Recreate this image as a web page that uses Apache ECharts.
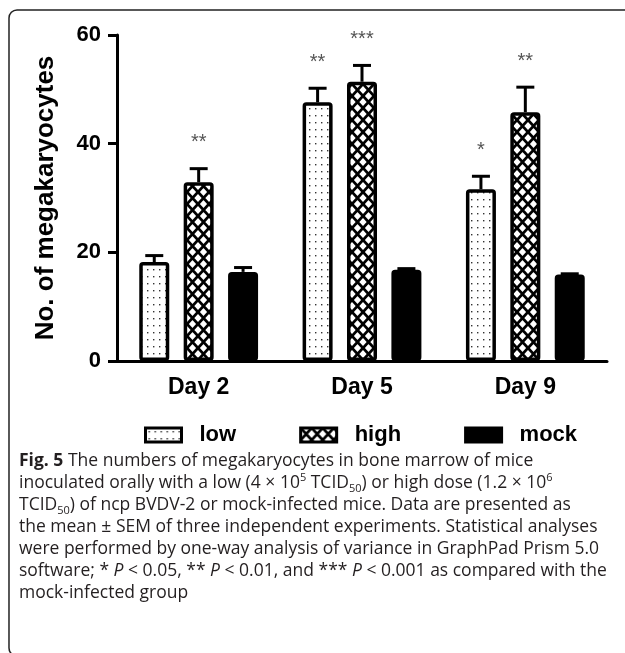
<!DOCTYPE html>
<html>
<head>
<meta charset="utf-8">
<script src="https://cdn.jsdelivr.net/npm/echarts@6/dist/echarts.min.js"></script>
<style>
  html, body { margin: 0; padding: 0; background: #fff; }
  #chart { width: 625px; height: 653px; }
</style>
</head>
<body>
<div id="chart"></div>
<script>
// data
const days = ["Day 2", "Day 5", "Day 9"];
const lowMean = [18.2, 47.6, 31.6];
const lowSem = [1.2, 2.6, 2.4];
const lowStars = ["", "**", "*"];
const highMean = [32.9, 51.4, 45.8];
const highSem = [2.5, 3.0, 4.6];
const highStars = ["**", "***", "**"];
const mockMean = [16.4, 16.8, 15.9];
const mockSem = [0.8, 0.2, 0.15];
const mockStars = ["", "", ""];
const yTicks = [0, 20, 40, 60];

const captionLines = [
  "{b|Fig. 5} The numbers of megakaryocytes in bone marrow of mice",
  "inoculated orally with a low (4 × 10{sup|5} TCID{sub|50}) or high dose (1.2 × 10{sup|6}",
  "TCID{sub|50}) of ncp BVDV-2 or mock-infected mice. Data are presented as",
  "the mean ± SEM of three independent experiments. Statistical analyses",
  "were performed by one-way analysis of variance in GraphPad Prism 5.0",
  "software; * {i|P} < 0.05, ** {i|P} < 0.01, and *** {i|P} < 0.001 as compared with the",
  "mock-infected group",
];

const BAR_W = 30;
const BAR_GAP = 0.48;
const CAP_W = 18;
const STAR_GAP = 26;
const FONT = "Liberation Sans";
const CAP_FONT = "Open Sans";

function dotPattern() {
  const c = document.createElement("canvas");
  c.width = 6;
  c.height = 7;
  const ctx = c.getContext("2d");
  ctx.fillStyle = "#fff";
  ctx.fillRect(0, 0, 6, 7);
  ctx.fillStyle = "#333";
  ctx.fillRect(3, 3, 1.4, 1.4);
  return c;
}

function hatchPattern() {
  const w = 11, h = 12;
  const c = document.createElement("canvas");
  c.width = w;
  c.height = h;
  const ctx = c.getContext("2d");
  ctx.fillStyle = "#fff";
  ctx.fillRect(0, 0, w, h);
  ctx.strokeStyle = "#000";
  ctx.lineWidth = 2.8;
  for (const dx of [-w, 0, w]) {
    for (const dy of [-h, 0, h]) {
      ctx.beginPath();
      ctx.moveTo(dx, dy);
      ctx.lineTo(dx + w, dy + h);
      ctx.moveTo(dx + w, dy);
      ctx.lineTo(dx, dy + h);
      ctx.stroke();
    }
  }
  return c;
}

function barSeries(name, means, fill) {
  return {
    name: name,
    type: "bar",
    data: means,
    barWidth: BAR_W,
    barGap: BAR_GAP * 100 + "%",
    z: 2,
    itemStyle: { color: fill, borderColor: "#000", borderWidth: 3.5, borderRadius: 2 },
    emphasis: { disabled: true },
  };
}

function errorSeries(name, means, sems, stars, slot) {
  return {
    name: name + " SEM",
    type: "custom",
    z: 3,
    silent: true,
    data: means.map((m, i) => [i, m, sems[i]]),
    encode: { x: 0, y: 1 },
    renderItem(params, api) {
      const idx = api.value(0);
      const mean = api.value(1);
      const sem = api.value(2);
      const offset = (slot - 1) * BAR_W * (1 + BAR_GAP);
      const base = api.coord([idx, mean]);
      const top = api.coord([idx, mean + sem]);
      const x = base[0] + offset;
      const line = { stroke: "#000", lineWidth: 3 };
      const children = [
        { type: "line", shape: { x1: x, y1: base[1], x2: x, y2: top[1] }, style: line },
        { type: "line", shape: { x1: x - CAP_W / 2, y1: top[1], x2: x + CAP_W / 2, y2: top[1] }, style: line },
      ];
      const s = stars[params.dataIndex];
      if (s) {
        children.push({
          type: "text",
          x: x,
          y: top[1] - STAR_GAP,
          style: { text: s, fill: "#555", font: "20px '" + FONT + "'", align: "center", verticalAlign: "middle" },
        });
      }
      return { type: "group", children: children };
    },
  };
}

const capStyle = (extra) =>
  Object.assign({ fontSize: 17.5, fontFamily: CAP_FONT, fill: "#231f20", lineHeight: 22 }, extra);

const chart = echarts.init(document.getElementById("chart"));
chart.setOption({
  animation: false,
  backgroundColor: "#fff",
  grid: { left: 117, right: 18, top: 35, bottom: 292 },
  legend: {
    data: ["low", "high", "mock"],
    left: 144,
    top: 424,
    padding: 0,
    icon: "rect",
    itemWidth: 36,
    itemHeight: 14,
    itemGap: 63,
    selectedMode: false,
    itemStyle: { borderWidth: 3, borderColor: "#000" },
    textStyle: { fontSize: 22, fontWeight: "bold", fontFamily: FONT, color: "#000", padding: [0, 0, 0, 13] },
  },
  xAxis: {
    type: "category",
    data: days,
    axisLine: { lineStyle: { color: "#000", width: 3 } },
    axisTick: { alignWithLabel: true, length: 10, lineStyle: { color: "#000", width: 3 } },
    axisLabel: { fontSize: 23, fontWeight: "bold", fontFamily: FONT, color: "#000", margin: 15 },
  },
  yAxis: {
    type: "value",
    min: yTicks[0],
    max: yTicks[yTicks.length - 1],
    interval: yTicks[1] - yTicks[0],
    name: "No. of megakaryocytes",
    nameLocation: "middle",
    nameGap: 58,
    nameTextStyle: { fontSize: 26, fontWeight: "bold", fontFamily: FONT, color: "#000" },
    axisLine: { show: true, lineStyle: { color: "#000", width: 3 } },
    axisTick: { show: true, length: 9, lineStyle: { color: "#000", width: 3 } },
    splitLine: { show: false },
    axisLabel: { fontSize: 22, fontWeight: "bold", fontFamily: FONT, color: "#000", margin: 16 },
  },
  graphic: [
    {
      type: "rect",
      shape: { x: 9, y: 10, width: 800, height: 646, r: 8 },
      style: { fill: "none", stroke: "#222", lineWidth: 1.5 },
      silent: true,
    },
    {
      type: "text",
      x: 19,
      y: 450,
      style: capStyle({
        text: captionLines.join("\n"),
        verticalAlign: "top",
        rich: {
          b: capStyle({ fontWeight: "bold" }),
          i: capStyle({ fontStyle: "italic" }),
          sup: capStyle({ fontSize: 11, verticalAlign: "top" }),
          sub: capStyle({ fontSize: 11, verticalAlign: "bottom" }),
        },
      }),
    },
  ],
  series: [
    barSeries("low", lowMean, { image: dotPattern(), repeat: "repeat" }),
    barSeries("high", highMean, { image: hatchPattern(), repeat: "repeat" }),
    barSeries("mock", mockMean, "#000"),
    errorSeries("low", lowMean, lowSem, lowStars, 0),
    errorSeries("high", highMean, highSem, highStars, 1),
    errorSeries("mock", mockMean, mockSem, mockStars, 2),
  ],
});
</script>
</body>
</html>
